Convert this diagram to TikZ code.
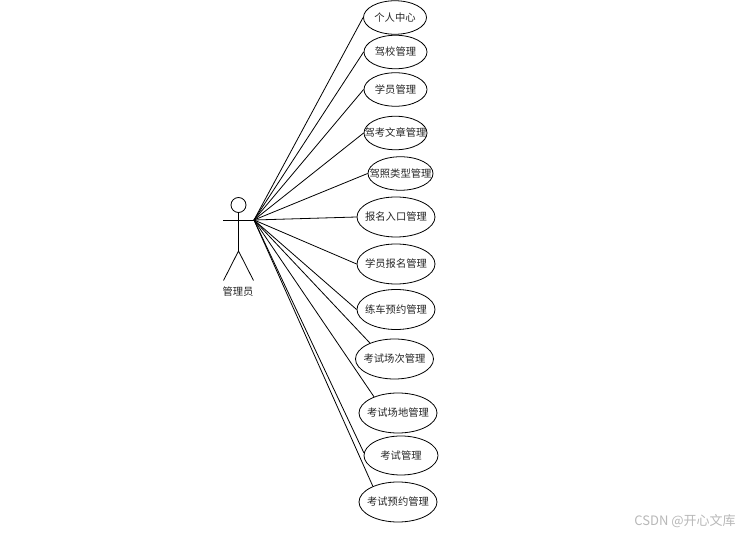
\documentclass[tikz,border=0pt]{standalone}
\usepackage{fontspec}
\setmainfont{Noto Sans CJK SC}
\usetikzlibrary{shapes.geometric}
\newcommand{\uctext}[1]{\makebox[0pt]{\raisebox{1.2pt}{#1}}}
\tikzset{
  x=1pt,y=-1pt,
  usecase/.style={draw=black,line width=0.8pt,ellipse,inner sep=0pt,font=\fontsize{10.3}{11}\selectfont,text=black!85},
  small/.style={usecase,minimum width=63pt,minimum height=33.5pt},
  mid/.style={usecase,minimum width=65pt,minimum height=33.5pt},
  big/.style={usecase,minimum width=78pt,minimum height=40pt},
  wide/.style={usecase,minimum width=74pt,minimum height=39pt},
  link/.style={draw=black,line width=0.8pt},
  stick/.style={draw=black,line width=0.8pt},
}
\begin{document}
\begin{tikzpicture}
\useasboundingbox (0,0) rectangle (745,534);
\fill[white] (0,0) rectangle (745,534);
% use cases
\node[small] (u1) at (395,17.5) {\uctext{个人中心}};
\node[small] (u2) at (395.5,52) {\uctext{驾校管理}};
\node[small] (u3) at (395.5,89.5) {\uctext{学员管理}};
\node[small] (u4) at (395.5,133) {\uctext{驾考文章管理}};
\node[mid] (u5) at (400.5,173.5) {\uctext{驾照类型管理}};
\node[big] (u6) at (396,217) {\uctext{报名入口管理}};
\node[big] (u7) at (396,264) {\uctext{学员报名管理}};
\node[big] (u8) at (396,309.5) {\uctext{练车预约管理}};
\node[big] (u9) at (394.5,359) {\uctext{考试场次管理}};
\node[big] (u10) at (398,413) {\uctext{考试场地管理}};
\node[wide] (u11) at (401,455.5) {\uctext{考试管理}};
\node[big] (u12) at (398,502) {\uctext{考试预约管理}};
% actor
\node[draw=black,line width=0.8pt,circle,minimum size=15pt,inner sep=0pt] (head) at (238.5,205) {};
\coordinate (hip) at (238.5,251);
\coordinate (armL) at (223,220);
\coordinate (hub) at (254,220);
\coordinate (footL) at (223.5,280.5);
\coordinate (footR) at (253.5,280.5);
\draw[stick] (head.south) -- (hip);
\draw[stick] (armL) -- (hub);
\draw[stick] (footL) -- (hip) -- (footR);
\node[font=\fontsize{10.3}{11}\selectfont,text=black!85] (actor) at (238,292) {管理员};
% connectors
\draw[link] (hub) -- (u1.west);
\draw[link] (hub) -- (u2.west);
\draw[link] (hub) -- (u3.west);
\draw[link] (hub) -- (u4.west);
\draw[link] (hub) -- (u5.west);
\draw[link] (hub) -- (u6.west);
\draw[link] (hub) -- (u7.west);
\draw[link] (hub) -- (u8.west);
\draw[link] (hub) -- (u9.147);
\draw[link] (hub) -- (u10.146);
\draw[link] (hub) -- (u11.176);
\draw[link] (hub) -- (u12.148);
% watermark
\node[font=\fontsize{13}{14}\selectfont,text=black!28,inner sep=0pt] (mark) at (685,521) {CSDN @开心文库};
\end{tikzpicture}
\end{document}
